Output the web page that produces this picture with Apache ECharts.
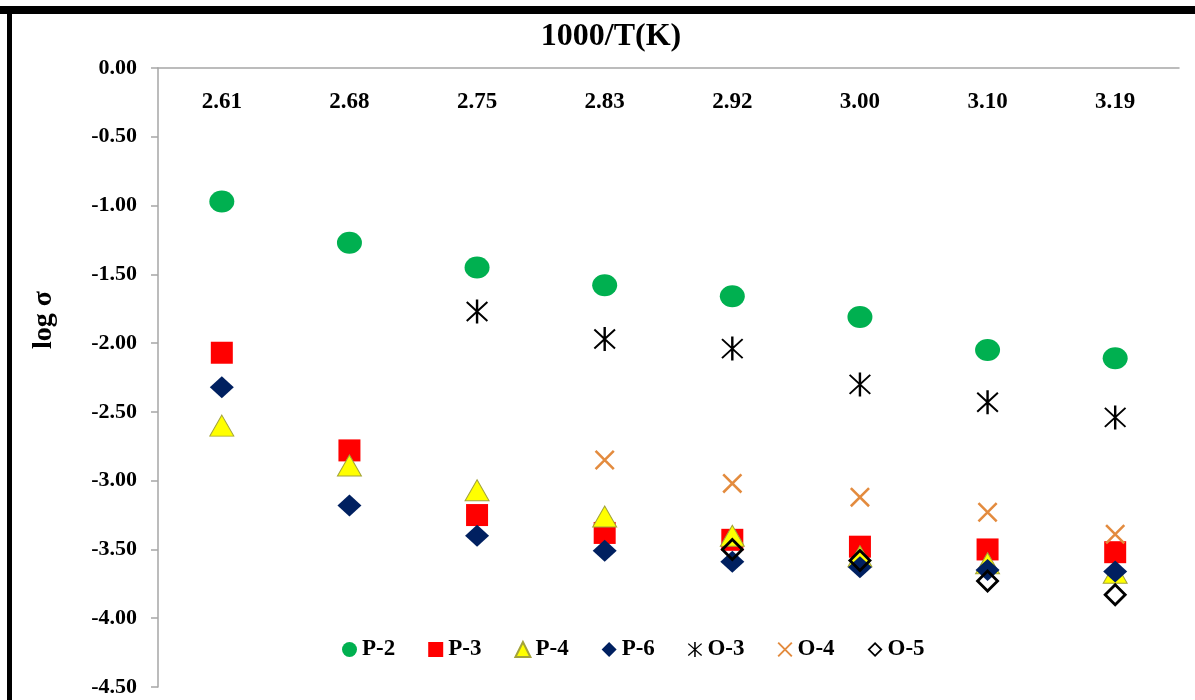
<!DOCTYPE html>
<html>
<head>
<meta charset="utf-8">
<script src="https://cdn.jsdelivr.net/npm/echarts@6/dist/echarts.min.js"></script>
<style>
  html, body { margin: 0; padding: 0; background: #fff; }
  #chart { width: 1195px; height: 700px; }
</style>
</head>
<body>
<div id="chart"></div>
<script>
// 1000/T(K) categories
const temps = ['2.61', '2.68', '2.75', '2.83', '2.92', '3.00', '3.10', '3.19'];

// log sigma values (null = no point)
const p2 = [-0.97, -1.27, -1.45, -1.58, -1.66, -1.81, -2.05, -2.11];
const p3 = [-2.07, -2.78, -3.25, -3.38, -3.43, -3.48, -3.50, -3.52];
const p4 = [-2.60, -2.89, -3.07, -3.26, -3.40, -3.55, -3.60, -3.67];
const p6 = [-2.32, -3.18, -3.40, -3.51, -3.59, -3.63, -3.65, -3.66];
const o3 = [null, null, -1.77, -1.97, -2.04, -2.30, -2.43, -2.54];
const o4 = [null, null, null, -2.85, -3.02, -3.12, -3.23, -3.39];
const o5 = [null, null, null, null, -3.50, -3.58, -3.73, -3.83];

const serif = "'Liberation Serif', 'Times New Roman', serif";

// custom marker shapes
const asterisk = 'path://M10.75 0H13.25V24H10.75Z' +
  'M0.6 3.2L2 1.8L23.4 20.8L22 22.2Z' +
  'M22 1.8L23.4 3.2L2 22.2L0.6 20.8Z';
const cross = 'path://M0 1.8L1.8 0L20 18.2L18.2 20Z M18.2 0L20 1.8L1.8 20L0 18.2Z';
const openDiamond = 'path://M12 0L24 12L12 24L0 12Z M12 4L4 12L12 20L20 12Z';

const fix = arr => arr.map(v => (v === null ? '-' : v));

const chart = echarts.init(document.getElementById('chart'));

chart.setOption({
  animation: false,
  backgroundColor: '#fff',
  grid: { left: 158, right: 16, top: 68, bottom: 13 },
  legend: {
    left: 337,
    top: 633,
    itemGap: 33,
    itemWidth: 15,
    itemHeight: 15,
    textStyle: { fontFamily: serif, fontWeight: 'bold', fontSize: 23, color: '#000' },
    data: ['P-2', 'P-3', 'P-4', 'P-6', 'O-3', 'O-4', 'O-5']
  },
  xAxis: {
    type: 'category',
    position: 'top',
    data: temps,
    axisLine: { lineStyle: { color: '#a6a6a6', width: 1.5 } },
    axisTick: { inside: true, length: 7, lineStyle: { color: '#a6a6a6', width: 1.5 } },
    axisLabel: {
      inside: true,
      margin: 23,
      fontFamily: serif,
      fontWeight: 'bold',
      fontSize: 23,
      color: '#000'
    },
    splitLine: { show: false }
  },
  yAxis: {
    type: 'value',
    min: -4.5,
    max: 0,
    interval: 0.5,
    axisLine: { show: true, lineStyle: { color: '#a6a6a6', width: 1.5 } },
    axisTick: { show: true, length: 7, lineStyle: { color: '#a6a6a6', width: 1.5 } },
    axisLabel: {
      margin: 21,
      fontFamily: serif,
      fontWeight: 'bold',
      fontSize: 22,
      color: '#000',
      formatter: v => v.toFixed(2)
    },
    splitLine: { show: false }
  },
  graphic: [
    { type: 'rect', shape: { x: 0, y: 6, width: 1195, height: 8 }, style: { fill: '#000' } },
    { type: 'rect', shape: { x: 7, y: 6, width: 5, height: 694 }, style: { fill: '#000' } },
    {
      type: 'text', x: 611, y: 37,
      style: {
        text: '1000/T(K)', fontFamily: serif, fontWeight: 'bold', fontSize: 32, fill: '#000',
        align: 'center', verticalAlign: 'middle'
      }
    },
    {
      type: 'text', x: 44, y: 320, rotation: Math.PI / 2,
      style: {
        text: 'log σ', fontFamily: serif, fontWeight: 'bold', fontSize: 28, fill: '#000',
        align: 'center', verticalAlign: 'middle'
      }
    }
  ],
  series: [
    { name: 'P-2', type: 'scatter', data: fix(p2), symbol: 'circle', symbolSize: [25, 22],
      itemStyle: { color: '#00b050', opacity: 1 } },
    { name: 'P-3', type: 'scatter', data: fix(p3), symbol: 'rect', symbolSize: [22, 22],
      itemStyle: { color: '#ff0000', opacity: 1 } },
    { name: 'P-4', type: 'scatter', data: fix(p4), symbol: 'triangle', symbolSize: [24, 21],
      itemStyle: { color: '#ffff00', borderColor: '#a3a33a', borderWidth: 1, opacity: 1 } },
    { name: 'P-6', type: 'scatter', data: fix(p6), symbol: 'diamond', symbolSize: [24, 22],
      itemStyle: { color: '#002060', opacity: 1 } },
    { name: 'O-3', type: 'scatter', data: fix(o3), symbol: asterisk, symbolSize: [22, 24],
      itemStyle: { color: '#000', opacity: 1 } },
    { name: 'O-4', type: 'scatter', data: fix(o4), symbol: cross, symbolSize: [20, 20],
      itemStyle: { color: '#e38b3e', opacity: 1 } },
    { name: 'O-5', type: 'scatter', data: fix(o5), symbol: openDiamond, symbolSize: [24, 24],
      itemStyle: { color: '#000', opacity: 1 } }
  ]
});
</script>
</body>
</html>
